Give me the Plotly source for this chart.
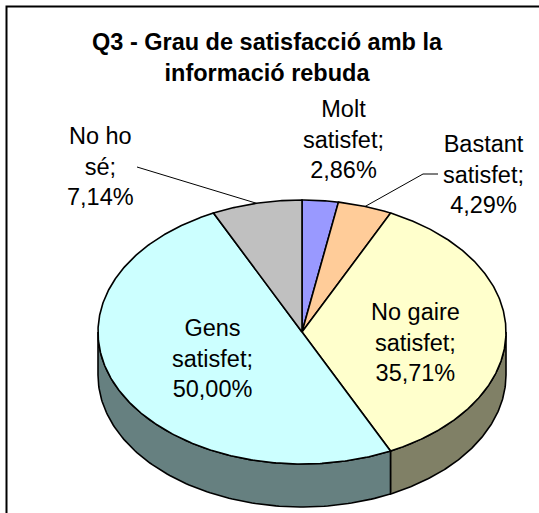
import numpy as np
import plotly.graph_objects as go

# ---- data ----
categories = ["Molt satisfet", "Bastant satisfet", "No gaire satisfet", "Gens satisfet", "No ho sé"]
values = [2.86, 4.29, 35.71, 50.00, 7.14]
top_colors = ["#9999FF", "#FFCC99", "#FFFFCC", "#CCFFFF", "#C0C0C0"]
side_colors = ["#4D4D80", "#806650", "#808066", "#668080", "#606060"]
title_text = "Q3 - Grau de satisfacció amb la<br>informació rebuda"

# ---- layout / geometry (pixel space) ----
W, H = 539, 513
CX, CY, RX, RY, DEPTH = 302, 332, 204, 132, 43
FONT = "Liberation Sans, Arial, sans-serif"
label_pos = {  # label centres
    "Molt satisfet": (343, 139),
    "Bastant satisfet": (483, 174),
    "No gaire satisfet": (415, 342),
    "Gens satisfet": (212, 358),
    "No ho sé": (100, 166),
}
leaders = {"Bastant satisfet": [(423, 174), (438, 174)], "No ho sé": [(137, 167)]}


def pt(theta_deg, dy=0.0):
    t = np.radians(theta_deg)
    return CX + RX * np.sin(t), CY - RY * np.cos(t) + dy


fig = go.Figure()
total = float(sum(values))
cum = np.concatenate([[0.0], np.cumsum(values)]) / total * 360.0

# side walls (front half: 90..270 deg)
for i, cat in enumerate(categories):
    a0, a1 = max(cum[i], 90.0), min(cum[i + 1], 270.0)
    if a1 <= a0:
        continue
    th = np.linspace(a0, a1, 120)
    xs_t, ys_t = pt(th)
    xs_b, ys_b = pt(th[::-1], DEPTH)
    xs = np.concatenate([xs_t, xs_b, [xs_t[0]]])
    ys = np.concatenate([ys_t, ys_b, [ys_t[0]]])
    fig.add_trace(go.Scatter(x=xs, y=ys, mode="lines", fill="toself",
                             fillcolor=side_colors[i],
                             line=dict(color="black", width=1.6),
                             hoverinfo="skip", showlegend=False))

# top faces
for i, cat in enumerate(categories):
    th = np.linspace(cum[i], cum[i + 1], max(int((cum[i + 1] - cum[i]) * 2), 8))
    xa, ya = pt(th)
    xs = np.concatenate([[CX], xa, [CX]])
    ys = np.concatenate([[CY], ya, [CY]])
    fig.add_trace(go.Scatter(x=xs, y=ys, mode="lines", fill="toself",
                             fillcolor=top_colors[i],
                             line=dict(color="black", width=1.6),
                             name=cat, hoverinfo="name", showlegend=False))

# leader lines from slice mid-angle on the rim to label
for i, cat in enumerate(categories):
    if cat in leaders:
        mid = (cum[i] + cum[i + 1]) / 2
        x0, y0 = pt(mid)
        pts = [(x0, y0)] + leaders[cat]
        fig.add_trace(go.Scatter(x=[p[0] for p in pts], y=[p[1] for p in pts],
                                 mode="lines", line=dict(color="black", width=1),
                                 hoverinfo="skip", showlegend=False))

# data labels
for cat, v in zip(categories, values):
    head, last = cat.rsplit(" ", 1)
    txt = f"{head}<br>{last};<br>{v:.2f}".replace(".", ",") + "%"
    x, y = label_pos[cat]
    fig.add_annotation(x=x, y=y, text=txt, showarrow=False, xanchor="center",
                       yanchor="middle", align="center",
                       font=dict(family=FONT, size=23.5, color="black"))

# title
fig.add_annotation(x=267, y=57, text=f"<b>{title_text}</b>", showarrow=False,
                   xanchor="center", yanchor="middle", align="center",
                   font=dict(family=FONT, size=23.5, color="black"))

# chart-area border (right/bottom edges lie outside the view)
fig.add_shape(type="rect", x0=6.5, y0=6.5, x1=W + 20, y1=H + 20,
              line=dict(color="black", width=2), fillcolor="rgba(0,0,0,0)")

fig.update_xaxes(range=[0, W], visible=False, fixedrange=True)
fig.update_yaxes(range=[H, 0], visible=False, fixedrange=True)
fig.update_layout(width=W, height=H, margin=dict(l=0, r=0, t=0, b=0),
                  paper_bgcolor="white", plot_bgcolor="white",
                  font=dict(family=FONT))
fig.write_html("out.html", config={"displayModeBar": False},
               post_script="document.body.style.margin='0';document.body.style.overflow='hidden';")
